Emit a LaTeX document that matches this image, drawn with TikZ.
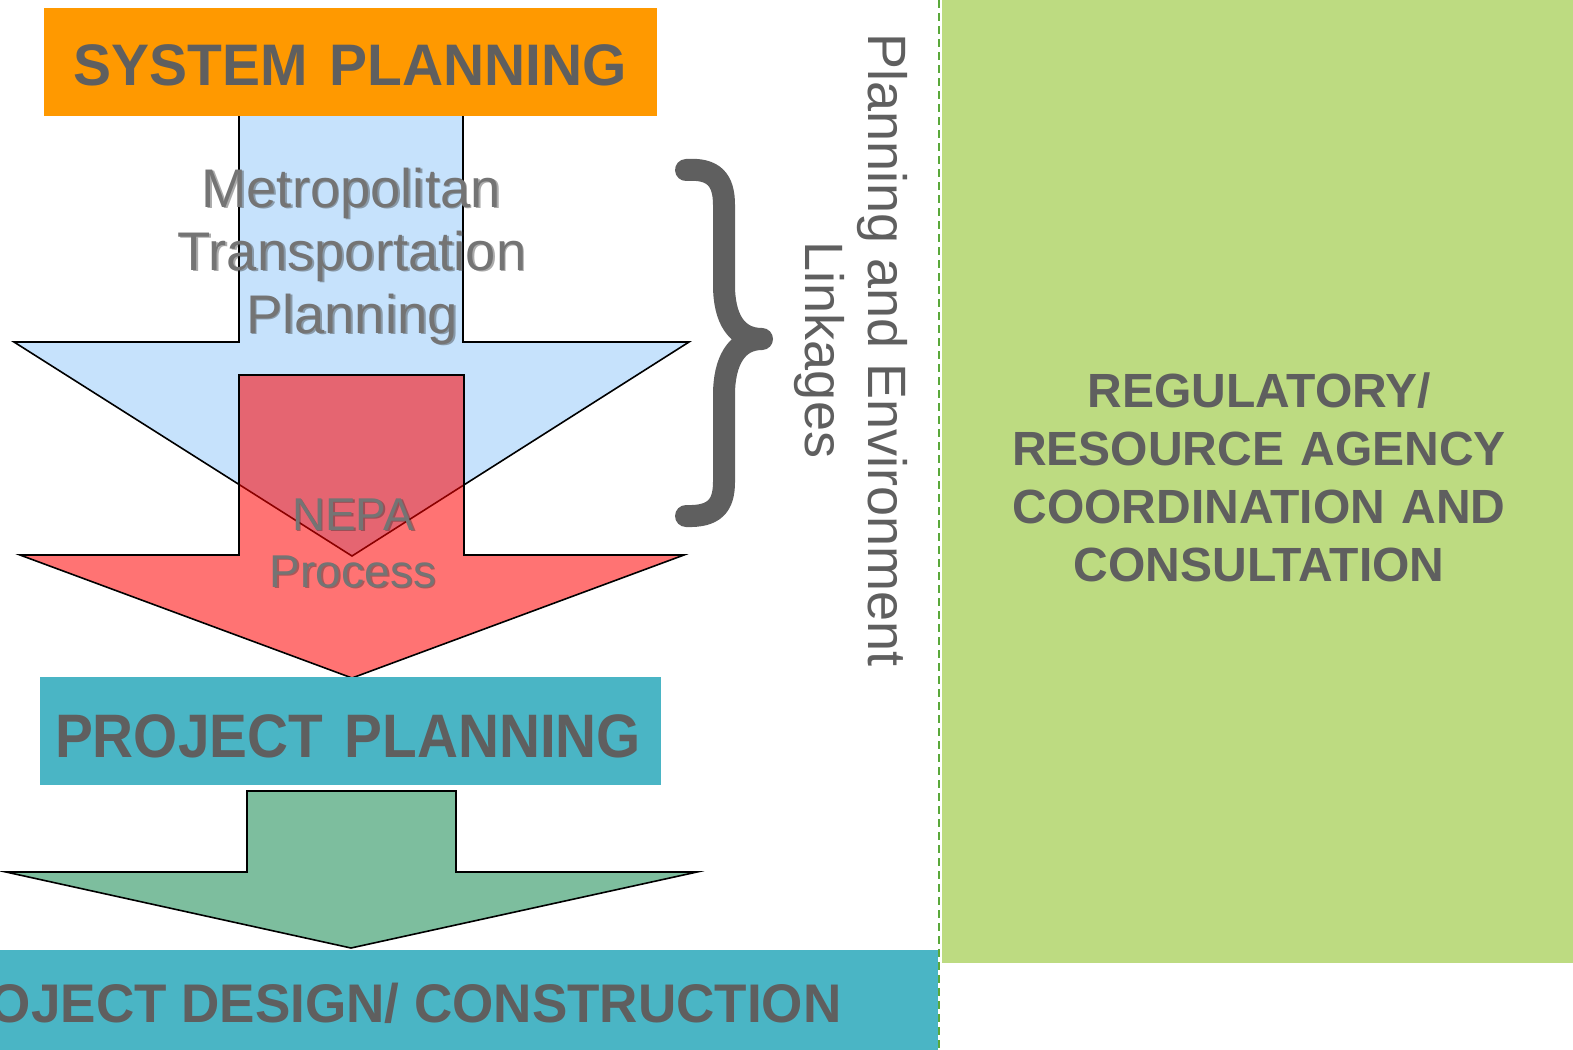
\documentclass[tikz,border=0pt]{standalone}
\usepackage{fontspec}
\setmainfont{Liberation Sans}
\usepackage{graphicx}
\definecolor{sysorange}{HTML}{FF9900}
\definecolor{lightblue}{HTML}{C6E2FC}
\definecolor{tealbox}{HTML}{4AB5C5}
\definecolor{greenbox}{HTML}{BDDB81}
\definecolor{greenarrow}{HTML}{7DBE9E}
\definecolor{headgray}{HTML}{5F5F5F}
\definecolor{softgray}{HTML}{747474}
\definecolor{shadowgray}{HTML}{2E2E2E}
\definecolor{dashgreen}{HTML}{5AA83A}
\newcommand{\shadowline}[4]{%
  \node[#3, text=shadowgray, text opacity=0.4, xshift=0.9pt, yshift=-0.9pt] (#1s) at (#2) {#4};
  \node[#3, text=softgray] (#1) at (#2) {#4};
}
\begin{document}
\begin{tikzpicture}[x=0.5pt,y=-0.5pt,
  blockarrow/.style={draw=black, line width=0.8pt, line join=miter},
  heading/.style={text=headgray, inner sep=0pt, anchor=base},
  softtext/.style={inner sep=0pt, anchor=base},
  sidetext/.style={text=headgray, inner sep=0pt, anchor=base, rotate=-90,
    font=\fontsize{27}{32}\selectfont}]
\useasboundingbox (0,0) rectangle (1573,1049);
\clip (0,0) rectangle (1573,1049);

% green regulatory panel and dashed divider
\fill[greenbox] (942,0) rectangle (1573,963);
\draw[dashgreen, line width=0.9pt, dash pattern=on 4pt off 2.5pt] (939,0) -- (939,1049);

% blue arrow
\fill[lightblue] (239,110) -- (239,342) -- (14,342) -- (352,556) -- (689,342) -- (463,342) -- (463,110) -- cycle;
\draw[blockarrow] (239,110) -- (239,342) -- (14,342) -- (352,556) -- (689,342) -- (463,342) -- (463,110);

% red arrow (semi-transparent)
\draw[blockarrow, fill=red, fill opacity=0.55] (239,375) -- (239,555) -- (20,555) -- (352,678) -- (684,555) -- (464,555) -- (464,375) -- cycle;

% green arrow
\draw[blockarrow, fill=greenarrow] (247,791) -- (247,872) -- (6,872) -- (351,948) -- (697,872) -- (456,872) -- (456,791) -- cycle;

% boxes
\fill[sysorange] (44,8) rectangle (657,116);
\fill[tealbox] (40,677) rectangle (661,785);
\fill[tealbox] (-300,950) rectangle (938,1060);

% headings
\node[heading, font=\bfseries\fontsize{29.3}{35}\selectfont] (sys) at (350,85)
  {\scalebox{0.972}[1]{SYSTEM\hspace{0.38em}PLANNING}};
\node[heading, font=\bfseries\fontsize{30.7}{36}\selectfont] (proj) at (348,757)
  {\scalebox{0.924}[1]{PROJECT\hspace{0.38em}PLANNING}};
\node[heading, anchor=base east, font=\bfseries\fontsize{27.2}{33}\selectfont] (design) at (842,1022)
  {\scalebox{0.975}[1]{PROJECT DESIGN/ CONSTRUCTION}};

% soft texts inside arrows
\shadowline{mtp1}{351,207}{softtext, font=\fontsize{27.2}{32}\selectfont}{Metropolitan}
\shadowline{mtp2}{352,270}{softtext, font=\fontsize{27.2}{32}\selectfont}{Transportation}
\shadowline{mtp3}{352,333}{softtext, font=\fontsize{27.2}{32}\selectfont}{Planning}
\shadowline{nepa1}{353,530}{softtext, font=\fontsize{23}{28}\selectfont}{NEPA}
\shadowline{nepa2}{353,587}{softtext, font=\fontsize{23}{28}\selectfont}{Process}

% brace
\draw[headgray, line width=11pt, line cap=round, line join=round]
  (686,170) .. controls (714,168) and (724,180) .. (724,205) -- (724,285)
  .. controls (724,318) and (736,339) .. (762,339)
  .. controls (736,339) and (724,362) .. (724,395) -- (724,482)
  .. controls (724,506) and (714,517) .. (686,516);

% vertical side text
\node[sidetext] (pe1) at (868,350) {Planning and Environment};
\node[sidetext] (pe2) at (805,350) {Linkages};

% regulatory text
\node[text=headgray, align=center, inner sep=0pt,
  font=\bfseries\fontsize{24}{29}\selectfont] (reg) at (1259,477)
  {REGULATORY/\\RESOURCE\hspace{0.34em}AGENCY\\COORDINATION\hspace{0.34em}AND\\CONSULTATION};
\end{tikzpicture}
\end{document}
